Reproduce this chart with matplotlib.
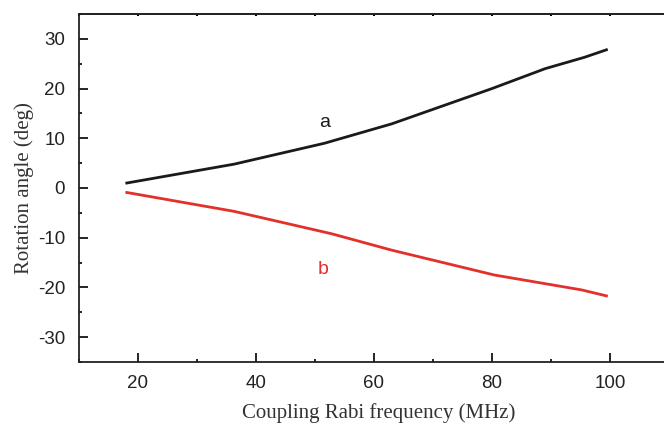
import matplotlib
matplotlib.use('Agg')
import matplotlib.pyplot as plt
from matplotlib.ticker import MultipleLocator

plt.rcParams['axes.unicode_minus'] = False

# coupling Rabi frequency (MHz) and rotation angle (deg)
freq_a = [18.1, 36.3, 51.6, 63.0, 80.0, 89.0, 95.7, 99.4]
angle_a = [1.0, 4.8, 9.0, 12.9, 20.0, 24.0, 26.3, 27.8]

freq_b = [18.1, 36.3, 52.8, 63.0, 80.4, 95.2, 99.4]
angle_b = [-0.9, -4.7, -9.2, -12.5, -17.5, -20.5, -21.7]

xticks = [20, 40, 60, 80, 100]
yticks = [-30, -20, -10, 0, 10, 20, 30]

fig = plt.figure(figsize=(6.64, 4.24), dpi=100)
ax = fig.add_axes([79 / 664, 1 - 362 / 424, 600 / 664, 348 / 424])

ax.plot(freq_a, angle_a, color='#1a1a1a', lw=2.0)
ax.plot(freq_b, angle_b, color='#e3302a', lw=2.0)

ax.text(51.6, 13.2, 'a', color='#1a1a1a', fontsize=14, family='Liberation Sans',
        ha='center', va='center')
ax.text(51.3, -16.4, 'b', color='#e3302a', fontsize=14, family='Liberation Sans',
        ha='center', va='center')

ax.set_xlim(10, 111.7)
ax.set_ylim(-35, 35)
ax.set_xticks(xticks)
ax.set_yticks(yticks)
ax.xaxis.set_minor_locator(MultipleLocator(10))
ax.yaxis.set_minor_locator(MultipleLocator(5))
ax.tick_params(which='both', direction='in', top=False, right=False, width=1.2)
ax.tick_params(which='major', length=6.5, labelsize=13.5)
ax.tick_params(axis='x', which='major', pad=9)
ax.tick_params(axis='y', which='major', pad=10)
ax.tick_params(which='minor', length=2)
for lab in ax.get_xticklabels() + ax.get_yticklabels():
    lab.set_family('Liberation Sans')
    lab.set_color('#222222')
for sp in ax.spines.values():
    sp.set_linewidth(1.3)
    sp.set_color('#222222')

# tiny ticks on the top edge
top = ax.secondary_xaxis('top')
top.set_xticks(xticks)
top.xaxis.set_minor_locator(MultipleLocator(10))
top.tick_params(which='both', direction='in', length=1.5, width=1.5, labeltop=False)
top.spines['top'].set_linewidth(1.3)
top.spines['top'].set_color('#222222')

ax.set_xlabel('Coupling Rabi frequency (MHz)', family='Liberation Serif',
              fontsize=15, color='#333333', labelpad=8)
ax.set_ylabel('Rotation angle (deg)', family='Liberation Serif',
              fontsize=15, color='#333333', labelpad=3)

fig.savefig('out.png', dpi=100)
